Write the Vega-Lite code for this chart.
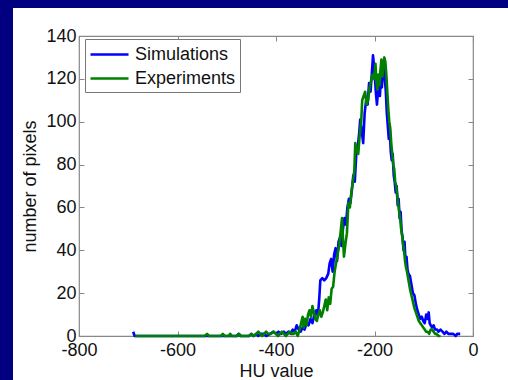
{
  "$schema": "https://vega.github.io/schema/vega-lite/v6.json",
  "width": 394,
  "height": 300,
  "autosize": {"type": "none"},
  "padding": {"left": 79, "top": 36, "right": 35, "bottom": 44},
  "background": "white",
  "config": {
    "font": "Liberation Sans",
    "view": {"stroke": "#888888", "strokeWidth": 1.2},
    "axis": {
      "labelFont": "Liberation Sans",
      "labelFontSize": 18,
      "labelColor": "#111111",
      "titleFont": "Liberation Sans",
      "titleFontSize": 18,
      "titleFontWeight": "normal",
      "titleColor": "#111111",
      "domain": false,
      "grid": true,
      "gridColor": "#b8b8b8",
      "gridDash": [1, 2],
      "gridWidth": 1,
      "ticks": true,
      "tickColor": "#888888",
      "tickSize": -5,
      "labelFlush": false
    }
  },
  "datasets": {
    "histograms": [
      {"series": "Simulations", "hu": -690, "count": 2},
      {"series": "Simulations", "hu": -687, "count": 0},
      {"series": "Simulations", "hu": -600, "count": 0},
      {"series": "Simulations", "hu": -480, "count": 0},
      {"series": "Simulations", "hu": -476, "count": 1},
      {"series": "Simulations", "hu": -472, "count": 0},
      {"series": "Simulations", "hu": -455, "count": 0},
      {"series": "Simulations", "hu": -450, "count": 1},
      {"series": "Simulations", "hu": -446, "count": 0},
      {"series": "Simulations", "hu": -440, "count": 1},
      {"series": "Simulations", "hu": -436, "count": 0},
      {"series": "Simulations", "hu": -430, "count": 1},
      {"series": "Simulations", "hu": -425, "count": 1},
      {"series": "Simulations", "hu": -420, "count": 0},
      {"series": "Simulations", "hu": -412, "count": 1},
      {"series": "Simulations", "hu": -405, "count": 2},
      {"series": "Simulations", "hu": -400, "count": 1},
      {"series": "Simulations", "hu": -395, "count": 2},
      {"series": "Simulations", "hu": -390, "count": 1},
      {"series": "Simulations", "hu": -384, "count": 2},
      {"series": "Simulations", "hu": -380, "count": 1},
      {"series": "Simulations", "hu": -375, "count": 2},
      {"series": "Simulations", "hu": -370, "count": 1},
      {"series": "Simulations", "hu": -366, "count": 3},
      {"series": "Simulations", "hu": -362, "count": 2},
      {"series": "Simulations", "hu": -358, "count": 5},
      {"series": "Simulations", "hu": -354, "count": 3},
      {"series": "Simulations", "hu": -350, "count": 2},
      {"series": "Simulations", "hu": -346, "count": 4},
      {"series": "Simulations", "hu": -342, "count": 3},
      {"series": "Simulations", "hu": -338, "count": 6},
      {"series": "Simulations", "hu": -334, "count": 5},
      {"series": "Simulations", "hu": -330, "count": 8},
      {"series": "Simulations", "hu": -326, "count": 6},
      {"series": "Simulations", "hu": -322, "count": 10},
      {"series": "Simulations", "hu": -318, "count": 12},
      {"series": "Simulations", "hu": -315, "count": 9},
      {"series": "Simulations", "hu": -312, "count": 18},
      {"series": "Simulations", "hu": -310, "count": 26},
      {"series": "Simulations", "hu": -306, "count": 27},
      {"series": "Simulations", "hu": -302, "count": 26},
      {"series": "Simulations", "hu": -298, "count": 27},
      {"series": "Simulations", "hu": -294, "count": 29},
      {"series": "Simulations", "hu": -291, "count": 34},
      {"series": "Simulations", "hu": -288, "count": 36},
      {"series": "Simulations", "hu": -285, "count": 30},
      {"series": "Simulations", "hu": -282, "count": 38},
      {"series": "Simulations", "hu": -279, "count": 41},
      {"series": "Simulations", "hu": -276, "count": 35},
      {"series": "Simulations", "hu": -273, "count": 44},
      {"series": "Simulations", "hu": -270, "count": 46},
      {"series": "Simulations", "hu": -267, "count": 42},
      {"series": "Simulations", "hu": -264, "count": 50},
      {"series": "Simulations", "hu": -261, "count": 55},
      {"series": "Simulations", "hu": -258, "count": 52},
      {"series": "Simulations", "hu": -255, "count": 60},
      {"series": "Simulations", "hu": -252, "count": 64},
      {"series": "Simulations", "hu": -249, "count": 62},
      {"series": "Simulations", "hu": -246, "count": 68},
      {"series": "Simulations", "hu": -243, "count": 75},
      {"series": "Simulations", "hu": -240, "count": 72},
      {"series": "Simulations", "hu": -237, "count": 85},
      {"series": "Simulations", "hu": -234, "count": 88},
      {"series": "Simulations", "hu": -231, "count": 95},
      {"series": "Simulations", "hu": -229, "count": 101},
      {"series": "Simulations", "hu": -226, "count": 96},
      {"series": "Simulations", "hu": -223, "count": 90},
      {"series": "Simulations", "hu": -220, "count": 104},
      {"series": "Simulations", "hu": -217, "count": 110},
      {"series": "Simulations", "hu": -214, "count": 108},
      {"series": "Simulations", "hu": -211, "count": 118},
      {"series": "Simulations", "hu": -208, "count": 114},
      {"series": "Simulations", "hu": -205, "count": 124},
      {"series": "Simulations", "hu": -203, "count": 131},
      {"series": "Simulations", "hu": -201, "count": 126},
      {"series": "Simulations", "hu": -199, "count": 120},
      {"series": "Simulations", "hu": -197, "count": 113},
      {"series": "Simulations", "hu": -195, "count": 108},
      {"series": "Simulations", "hu": -193, "count": 114},
      {"series": "Simulations", "hu": -191, "count": 118},
      {"series": "Simulations", "hu": -189, "count": 112},
      {"series": "Simulations", "hu": -187, "count": 121},
      {"series": "Simulations", "hu": -185, "count": 116},
      {"series": "Simulations", "hu": -183, "count": 124},
      {"series": "Simulations", "hu": -181, "count": 127},
      {"series": "Simulations", "hu": -179, "count": 120},
      {"series": "Simulations", "hu": -177, "count": 114},
      {"series": "Simulations", "hu": -175, "count": 104},
      {"series": "Simulations", "hu": -173, "count": 98},
      {"series": "Simulations", "hu": -171, "count": 92},
      {"series": "Simulations", "hu": -169, "count": 96},
      {"series": "Simulations", "hu": -167, "count": 86},
      {"series": "Simulations", "hu": -165, "count": 82},
      {"series": "Simulations", "hu": -163, "count": 85},
      {"series": "Simulations", "hu": -161, "count": 75},
      {"series": "Simulations", "hu": -159, "count": 72},
      {"series": "Simulations", "hu": -157, "count": 67},
      {"series": "Simulations", "hu": -155, "count": 70},
      {"series": "Simulations", "hu": -153, "count": 61},
      {"series": "Simulations", "hu": -151, "count": 64},
      {"series": "Simulations", "hu": -149, "count": 55},
      {"series": "Simulations", "hu": -147, "count": 58},
      {"series": "Simulations", "hu": -145, "count": 49},
      {"series": "Simulations", "hu": -143, "count": 46},
      {"series": "Simulations", "hu": -141, "count": 40},
      {"series": "Simulations", "hu": -139, "count": 44},
      {"series": "Simulations", "hu": -137, "count": 35},
      {"series": "Simulations", "hu": -135, "count": 37},
      {"series": "Simulations", "hu": -133, "count": 31},
      {"series": "Simulations", "hu": -131, "count": 29},
      {"series": "Simulations", "hu": -128, "count": 28},
      {"series": "Simulations", "hu": -125, "count": 24},
      {"series": "Simulations", "hu": -122, "count": 20},
      {"series": "Simulations", "hu": -119, "count": 19},
      {"series": "Simulations", "hu": -116, "count": 15},
      {"series": "Simulations", "hu": -113, "count": 12},
      {"series": "Simulations", "hu": -110, "count": 10},
      {"series": "Simulations", "hu": -107, "count": 8},
      {"series": "Simulations", "hu": -104, "count": 9},
      {"series": "Simulations", "hu": -101, "count": 7},
      {"series": "Simulations", "hu": -98, "count": 6},
      {"series": "Simulations", "hu": -95, "count": 10},
      {"series": "Simulations", "hu": -92, "count": 8},
      {"series": "Simulations", "hu": -90, "count": 11},
      {"series": "Simulations", "hu": -88, "count": 6},
      {"series": "Simulations", "hu": -86, "count": 5},
      {"series": "Simulations", "hu": -83, "count": 4},
      {"series": "Simulations", "hu": -80, "count": 5},
      {"series": "Simulations", "hu": -77, "count": 3},
      {"series": "Simulations", "hu": -73, "count": 3},
      {"series": "Simulations", "hu": -70, "count": 2},
      {"series": "Simulations", "hu": -66, "count": 3},
      {"series": "Simulations", "hu": -62, "count": 2},
      {"series": "Simulations", "hu": -58, "count": 1},
      {"series": "Simulations", "hu": -54, "count": 2},
      {"series": "Simulations", "hu": -50, "count": 1},
      {"series": "Simulations", "hu": -45, "count": 1},
      {"series": "Simulations", "hu": -40, "count": 1},
      {"series": "Simulations", "hu": -35, "count": 0},
      {"series": "Simulations", "hu": -32, "count": 1},
      {"series": "Simulations", "hu": -26, "count": 1},
      {"series": "Experiments", "hu": -686, "count": 0},
      {"series": "Experiments", "hu": -545, "count": 0},
      {"series": "Experiments", "hu": -540, "count": 1},
      {"series": "Experiments", "hu": -536, "count": 0},
      {"series": "Experiments", "hu": -512, "count": 0},
      {"series": "Experiments", "hu": -508, "count": 1},
      {"series": "Experiments", "hu": -504, "count": 0},
      {"series": "Experiments", "hu": -496, "count": 0},
      {"series": "Experiments", "hu": -493, "count": 1},
      {"series": "Experiments", "hu": -490, "count": 0},
      {"series": "Experiments", "hu": -478, "count": 0},
      {"series": "Experiments", "hu": -475, "count": 1},
      {"series": "Experiments", "hu": -471, "count": 0},
      {"series": "Experiments", "hu": -455, "count": 0},
      {"series": "Experiments", "hu": -450, "count": 1},
      {"series": "Experiments", "hu": -445, "count": 0},
      {"series": "Experiments", "hu": -440, "count": 1},
      {"series": "Experiments", "hu": -436, "count": 2},
      {"series": "Experiments", "hu": -432, "count": 1},
      {"series": "Experiments", "hu": -428, "count": 0},
      {"series": "Experiments", "hu": -424, "count": 1},
      {"series": "Experiments", "hu": -420, "count": 2},
      {"series": "Experiments", "hu": -416, "count": 1},
      {"series": "Experiments", "hu": -410, "count": 1},
      {"series": "Experiments", "hu": -405, "count": 2},
      {"series": "Experiments", "hu": -400, "count": 1},
      {"series": "Experiments", "hu": -396, "count": 0},
      {"series": "Experiments", "hu": -392, "count": 1},
      {"series": "Experiments", "hu": -388, "count": 2},
      {"series": "Experiments", "hu": -384, "count": 1},
      {"series": "Experiments", "hu": -380, "count": 0},
      {"series": "Experiments", "hu": -376, "count": 1},
      {"series": "Experiments", "hu": -372, "count": 2},
      {"series": "Experiments", "hu": -368, "count": 1},
      {"series": "Experiments", "hu": -364, "count": 1},
      {"series": "Experiments", "hu": -360, "count": 2},
      {"series": "Experiments", "hu": -356, "count": 0},
      {"series": "Experiments", "hu": -352, "count": 3},
      {"series": "Experiments", "hu": -349, "count": 6},
      {"series": "Experiments", "hu": -346, "count": 9},
      {"series": "Experiments", "hu": -344, "count": 4},
      {"series": "Experiments", "hu": -341, "count": 8},
      {"series": "Experiments", "hu": -338, "count": 5},
      {"series": "Experiments", "hu": -335, "count": 10},
      {"series": "Experiments", "hu": -332, "count": 12},
      {"series": "Experiments", "hu": -329, "count": 9},
      {"series": "Experiments", "hu": -326, "count": 14},
      {"series": "Experiments", "hu": -323, "count": 11},
      {"series": "Experiments", "hu": -320, "count": 8},
      {"series": "Experiments", "hu": -317, "count": 7},
      {"series": "Experiments", "hu": -314, "count": 10},
      {"series": "Experiments", "hu": -311, "count": 12},
      {"series": "Experiments", "hu": -308, "count": 9},
      {"series": "Experiments", "hu": -305, "count": 11},
      {"series": "Experiments", "hu": -302, "count": 14},
      {"series": "Experiments", "hu": -299, "count": 17},
      {"series": "Experiments", "hu": -296, "count": 12},
      {"series": "Experiments", "hu": -293, "count": 18},
      {"series": "Experiments", "hu": -290, "count": 15},
      {"series": "Experiments", "hu": -287, "count": 22},
      {"series": "Experiments", "hu": -284, "count": 23},
      {"series": "Experiments", "hu": -281, "count": 30},
      {"series": "Experiments", "hu": -278, "count": 34},
      {"series": "Experiments", "hu": -275, "count": 38},
      {"series": "Experiments", "hu": -272, "count": 42},
      {"series": "Experiments", "hu": -269, "count": 48},
      {"series": "Experiments", "hu": -266, "count": 55},
      {"series": "Experiments", "hu": -264, "count": 45},
      {"series": "Experiments", "hu": -262, "count": 37},
      {"series": "Experiments", "hu": -259, "count": 43},
      {"series": "Experiments", "hu": -256, "count": 48},
      {"series": "Experiments", "hu": -253, "count": 62},
      {"series": "Experiments", "hu": -250, "count": 60},
      {"series": "Experiments", "hu": -247, "count": 67},
      {"series": "Experiments", "hu": -244, "count": 72},
      {"series": "Experiments", "hu": -241, "count": 77},
      {"series": "Experiments", "hu": -239, "count": 90},
      {"series": "Experiments", "hu": -236, "count": 86},
      {"series": "Experiments", "hu": -233, "count": 85},
      {"series": "Experiments", "hu": -230, "count": 94},
      {"series": "Experiments", "hu": -227, "count": 100},
      {"series": "Experiments", "hu": -225, "count": 110},
      {"series": "Experiments", "hu": -222, "count": 112},
      {"series": "Experiments", "hu": -219, "count": 114},
      {"series": "Experiments", "hu": -216, "count": 108},
      {"series": "Experiments", "hu": -213, "count": 110},
      {"series": "Experiments", "hu": -210, "count": 116},
      {"series": "Experiments", "hu": -207, "count": 119},
      {"series": "Experiments", "hu": -204, "count": 122},
      {"series": "Experiments", "hu": -201, "count": 120},
      {"series": "Experiments", "hu": -198, "count": 127},
      {"series": "Experiments", "hu": -196, "count": 118},
      {"series": "Experiments", "hu": -194, "count": 115},
      {"series": "Experiments", "hu": -192, "count": 122},
      {"series": "Experiments", "hu": -190, "count": 117},
      {"series": "Experiments", "hu": -188, "count": 124},
      {"series": "Experiments", "hu": -186, "count": 129},
      {"series": "Experiments", "hu": -184, "count": 121},
      {"series": "Experiments", "hu": -182, "count": 126},
      {"series": "Experiments", "hu": -180, "count": 130},
      {"series": "Experiments", "hu": -178, "count": 128},
      {"series": "Experiments", "hu": -176, "count": 122},
      {"series": "Experiments", "hu": -174, "count": 114},
      {"series": "Experiments", "hu": -172, "count": 106},
      {"series": "Experiments", "hu": -170, "count": 100},
      {"series": "Experiments", "hu": -168, "count": 97},
      {"series": "Experiments", "hu": -166, "count": 90},
      {"series": "Experiments", "hu": -164, "count": 85},
      {"series": "Experiments", "hu": -162, "count": 80},
      {"series": "Experiments", "hu": -160, "count": 78},
      {"series": "Experiments", "hu": -158, "count": 72},
      {"series": "Experiments", "hu": -156, "count": 70},
      {"series": "Experiments", "hu": -154, "count": 66},
      {"series": "Experiments", "hu": -152, "count": 62},
      {"series": "Experiments", "hu": -150, "count": 58},
      {"series": "Experiments", "hu": -148, "count": 55},
      {"series": "Experiments", "hu": -146, "count": 50},
      {"series": "Experiments", "hu": -144, "count": 47},
      {"series": "Experiments", "hu": -142, "count": 43},
      {"series": "Experiments", "hu": -140, "count": 40},
      {"series": "Experiments", "hu": -138, "count": 35},
      {"series": "Experiments", "hu": -136, "count": 32},
      {"series": "Experiments", "hu": -134, "count": 30},
      {"series": "Experiments", "hu": -131, "count": 26},
      {"series": "Experiments", "hu": -128, "count": 22},
      {"series": "Experiments", "hu": -125, "count": 19},
      {"series": "Experiments", "hu": -122, "count": 16},
      {"series": "Experiments", "hu": -119, "count": 13},
      {"series": "Experiments", "hu": -116, "count": 11},
      {"series": "Experiments", "hu": -113, "count": 9},
      {"series": "Experiments", "hu": -110, "count": 7},
      {"series": "Experiments", "hu": -107, "count": 6},
      {"series": "Experiments", "hu": -104, "count": 5},
      {"series": "Experiments", "hu": -101, "count": 4},
      {"series": "Experiments", "hu": -98, "count": 3},
      {"series": "Experiments", "hu": -95, "count": 2},
      {"series": "Experiments", "hu": -92, "count": 2},
      {"series": "Experiments", "hu": -89, "count": 1},
      {"series": "Experiments", "hu": -86, "count": 3},
      {"series": "Experiments", "hu": -83, "count": 3},
      {"series": "Experiments", "hu": -80, "count": 2},
      {"series": "Experiments", "hu": -77, "count": 1},
      {"series": "Experiments", "hu": -74, "count": 1},
      {"series": "Experiments", "hu": -70, "count": 0},
      {"series": "Experiments", "hu": -66, "count": 0}
    ]
  },
  "layer": [
    {
      "description": "Slide border: left band; also carries the tick-only top and right axes of the box",
      "data": {"values": [{}]},
      "mark": {"type": "rect", "color": "#000080"},
      "encoding": {
        "x": {
          "datum": -1100,
          "type": "quantitative",
          "scale": {"domain": [-800, 0], "nice": false},
          "axis": {"orient": "top", "labels": false, "grid": false, "title": null, "values": [-800, -600, -400, -200, 0]}
        },
        "x2": {"datum": -934},
        "y": {
          "datum": -40,
          "type": "quantitative",
          "scale": {"domain": [0, 140], "nice": false},
          "axis": {"orient": "right", "labels": false, "grid": false, "title": null, "values": [0, 20, 40, 60, 80, 100, 120, 140]}
        },
        "y2": {"datum": 220}
      }
    },
    {
      "description": "Slide border: top band",
      "data": {"values": [{}]},
      "mark": {"type": "rect", "color": "#000080"},
      "encoding": {
        "x": {"datum": -1100, "type": "quantitative", "axis": null},
        "x2": {"datum": 200},
        "y": {"datum": 153.07, "type": "quantitative", "axis": null},
        "y2": {"datum": 220}
      }
    },
    {
      "data": {"name": "histograms"},
      "mark": {"type": "line", "strokeWidth": 2.6, "strokeJoin": "round"},
      "encoding": {
        "x": {
          "field": "hu",
          "type": "quantitative",
          "scale": {"domain": [-800, 0], "nice": false},
          "axis": {
            "orient": "bottom",
            "title": "HU value",
            "values": [-800, -600, -400, -200, 0],
            "labelExpr": "datum.value < 0 ? '-' + abs(datum.value) : datum.label",
            "labelPadding": 10,
            "titlePadding": 3
          }
        },
        "y": {
          "field": "count",
          "type": "quantitative",
          "scale": {"domain": [0, 140], "nice": false},
          "axis": {
            "orient": "left",
            "title": "number of pixels",
            "values": [0, 20, 40, 60, 80, 100, 120, 140],
            "labelPadding": 8,
            "titlePadding": 6
          }
        },
        "color": {
          "field": "series",
          "type": "nominal",
          "sort": ["Simulations", "Experiments"],
          "scale": {"domain": ["Simulations", "Experiments"], "range": ["#0000ff", "#008000"]},
          "legend": {
            "title": null,
            "orient": "none",
            "legendX": 6,
            "legendY": 3,
            "fillColor": "white",
            "strokeColor": "#777777",
            "padding": 4,
            "symbolType": "M-1,0H2.8",
            "symbolSize": 400,
            "symbolStrokeWidth": 2.5,
            "labelFont": "Liberation Sans",
            "labelFontSize": 18,
            "labelColor": "#111111",
            "labelOffset": 23,
            "rowPadding": 3
          }
        }
      }
    }
  ]
}
